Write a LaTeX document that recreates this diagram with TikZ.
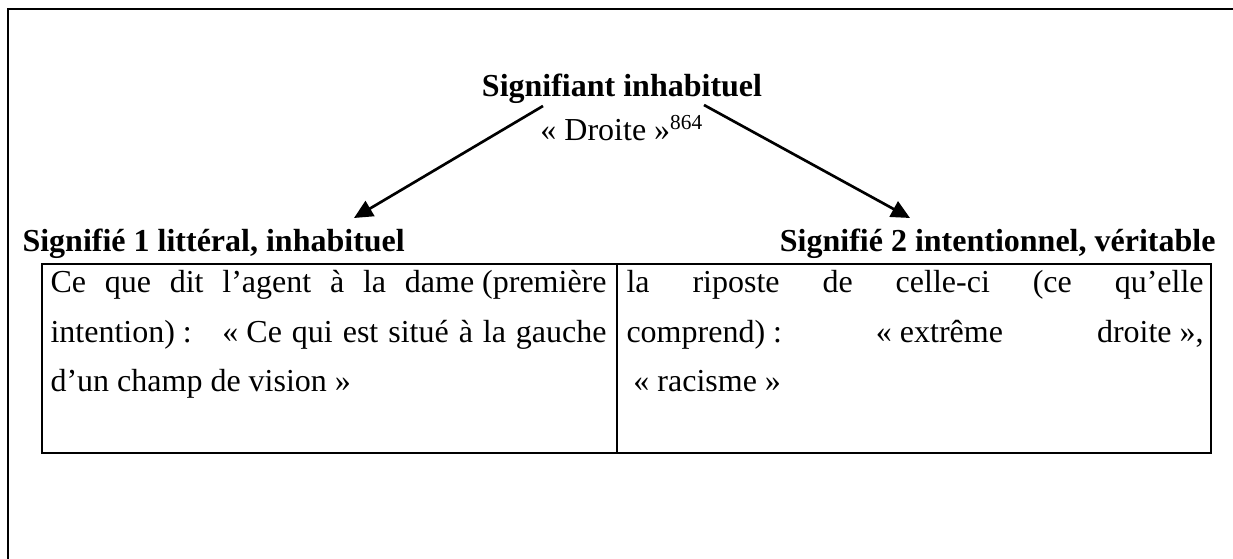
\documentclass[tikz,border=0pt]{standalone}
\usepackage{fontspec}
\setmainfont{Liberation Serif}
\usetikzlibrary{arrows.meta, positioning}

% stretched (justified) line of a given width
\newcommand{\jline}[2]{\makebox[#1][s]{#2}}
% fixed space, kept out of the stretching
\newcommand{\fsp}{\hspace{0.25em}}

\begin{document}
\begin{tikzpicture}[x=0.375pt, y=-0.375pt,
    every node/.style={font=\fontsize{12pt}{18.6pt}\selectfont, inner sep=0pt},
    head/.style={font=\fontsize{12pt}{14pt}\selectfont\bfseries},
    cell/.style={anchor=north west, text width=#1, align=left},
    link/.style={line width=1pt, -{Triangle[length=7pt, width=6.5pt]}},
    frame/.style={line width=1.1pt},
    grid/.style={line width=0.8pt}]
  \useasboundingbox (0,0) rectangle (1233,559);

  % page frame, open on the right and at the bottom
  \coordinate (page-bl) at (8,559);
  \coordinate (page-tr) at (1233,9);
  \draw[frame] (page-bl) |- (page-tr);

  % signifier
  \node[head, anchor=base] (sig) at (622,97) {Signifiant inhabituel};
  \node[anchor=base] (mot) at (622,141) {«\fsp Droite\fsp»\textsuperscript{864}};

  % the two signifieds
  \node[head, anchor=base west] (sens1) at (22,252) {Signifié 1 littéral, inhabituel};
  \node[head, anchor=base east] (sens2) at (1216,252) {Signifié 2 intentionnel, véritable};

  \coordinate (l-from) at (543,106);
  \coordinate (l-to) at (354,218);
  \coordinate (r-from) at (704,105);
  \coordinate (r-to) at (910,218);
  \draw[link] (l-from) -- (l-to);
  \draw[link] (r-from) -- (r-to);

  % table with two cells
  \coordinate (tab-tl) at (42,264);
  \coordinate (tab-br) at (1211,453);
  \coordinate (tab-mt) at (617,264);
  \coordinate (tab-mb) at (617,453);
  \draw[grid] (tab-tl) rectangle (tab-br);
  \draw[grid] (tab-mt) -- (tab-mb);

  \node[cell=208.5pt] (lit) at (50,270) {\spaceskip=0pt\xspaceskip=0pt
    \jline{208.5pt}{Ce que dit l’agent à la dame\fsp(première}\\
    \jline{208.5pt}{intention)\fsp:\hspace{6pt} «\fsp Ce qui est situé à la gauche}\\
    d’un champ de vision\fsp»};
  \node[cell=216.4pt] (vrai) at (626,270) {\spaceskip=0pt\xspaceskip=0pt
    \jline{216.4pt}{la riposte de celle-ci (ce qu’elle}\\
    \jline{216.4pt}{comprend)\fsp:\hspace{3pt plus 1fill}«\fsp extrême\hspace{3pt plus 1fill}droite\fsp»,}\\
    \hspace*{2.6pt}«\fsp racisme\fsp»};
\end{tikzpicture}
\end{document}
